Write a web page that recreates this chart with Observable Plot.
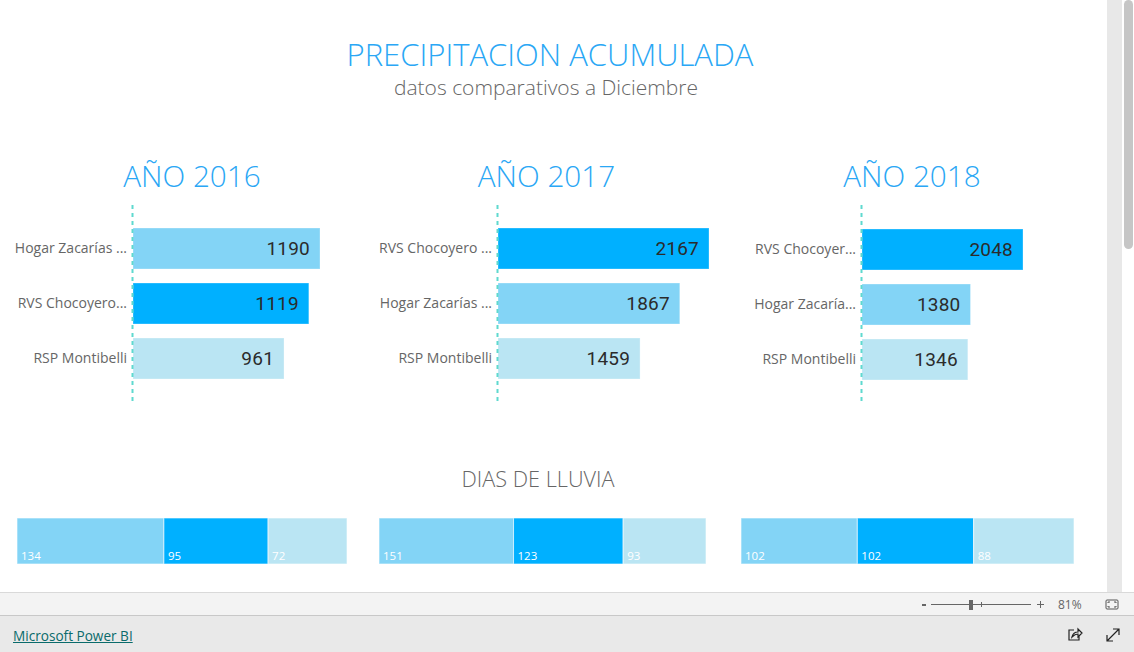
<!DOCTYPE html>
<html lang="es">
<head>
<meta charset="utf-8">
<script src="https://cdn.jsdelivr.net/npm/d3@7"></script>
<script src="https://cdn.jsdelivr.net/npm/@observablehq/plot@0.6"></script>
<style>
html,body{margin:0;padding:0;width:1134px;height:652px;overflow:hidden;background:#fff;font-family:"Open Sans",sans-serif}
#page{position:relative;width:1134px;height:652px;overflow:hidden}
.t{position:absolute;white-space:nowrap;text-align:center;font-weight:300;line-height:1}
.p{position:absolute}
.p svg{display:block;background:transparent;overflow:visible}
.main g[aria-label="text"] text{letter-spacing:0.2px}
.box{position:absolute}
</style>
</head>
<body>
<div id="page"></div>
<script>
const stations = ["Hogar Zacarías", "RVS Chocoyero", "RSP Montibelli"];
const stationColors = ["#83D4F6", "#00B0FF", "#BAE5F3"];

const years = ["AÑO 2016", "AÑO 2017", "AÑO 2018"];

const order2016 = ["Hogar Zacarías", "RVS Chocoyero", "RSP Montibelli"];
const labels2016 = ["Hogar Zacarías ...", "RVS Chocoyero...", "RSP Montibelli"];
const rain2016 = [1190, 1119, 961];

const order2017 = ["RVS Chocoyero", "Hogar Zacarías", "RSP Montibelli"];
const labels2017 = ["RVS Chocoyero ...", "Hogar Zacarías ...", "RSP Montibelli"];
const rain2017 = [2167, 1867, 1459];

const order2018 = ["RVS Chocoyero", "Hogar Zacarías", "RSP Montibelli"];
const labels2018 = ["RVS Chocoyer...", "Hogar Zacaría...", "RSP Montibelli"];
const rain2018 = [2048, 1380, 1346];

const days2016 = [134, 95, 72];
const days2017 = [151, 123, 93];
const days2018 = [102, 102, 88];

const page = document.getElementById("page");
const color = {domain: stations, range: stationColors};

function text(str, cx, cy, size, col, extra) {
  const d = document.createElement("div");
  d.className = "t";
  d.textContent = str;
  d.style.cssText = `left:${cx - 400}px;width:800px;top:${cy - size / 2}px;font-size:${size}px;color:${col};${extra || ""}`;
  page.appendChild(d);
}
function place(svg, left, top, cls) {
  const w = document.createElement("div");
  w.className = "p " + (cls || "");
  w.style.left = left + "px";
  w.style.top = top + "px";
  w.appendChild(svg);
  page.appendChild(w);
}
function box(l, t, w, h, bg, extra) {
  const d = document.createElement("div");
  d.className = "box";
  d.style.cssText = `left:${l}px;top:${t}px;width:${w}px;height:${h}px;background:${bg};${extra || ""}`;
  page.appendChild(d);
  return d;
}

function rainChart(order, labels, values, axisX, endX, top, yStart) {
  const rows = order.map((s, i) => ({station: s, value: values[i]}));
  const tick = new Map(order.map((s, i) => [s, labels[i]]));
  const width = axisX + 260, height = 198;
  const svg = Plot.plot({
    width, height,
    marginLeft: axisX, marginRight: 0, marginTop: 0, marginBottom: 0,
    x: {domain: [0, values[0]], range: [axisX, endX], axis: null},
    y: {domain: order, range: [yStart, yStart + 180.4], padding: 0.25, label: null, axis: null},
    color,
    marks: [
      Plot.barX(rows, {y: "station", x: "value", fill: "station", stroke: "#fff", strokeOpacity: 0.3}),
      Plot.ruleX([0], {stroke: "#5FD9CF", strokeWidth: 2, strokeDasharray: "4 4", dx: -1}),
      Plot.axisY({anchor: "left", tickSize: 0, tickPadding: 6.5, label: null, fontSize: 14, color: "#666",
        fontFamily: "'Open Sans',sans-serif", tickFormat: d => tick.get(d)}),
      Plot.text(rows, {y: "station", x: "value", text: d => String(d.value), textAnchor: "end", dx: -10.5,
        fontSize: 19, fontWeight: 400, fontFamily: "Roboto,sans-serif", fill: "#2b2b2b"})
    ]
  });
  place(svg, 0, top, "main");
}

function daysChart(values, x0, x1, top) {
  const rows = stations.map((s, i) => ({station: s, value: values[i]}));
  const svg = Plot.plot({
    width: x1 + 5, height: 46,
    marginLeft: x0, marginRight: 5, marginTop: 0, marginBottom: 0,
    x: {domain: [0, d3.sum(values)], range: [x0, x1], axis: null},
    y: {axis: null},
    color,
    marks: [
      Plot.barX(rows, Plot.stackX({x: "value", fill: "station", stroke: "#fff", strokeWidth: 1, strokeOpacity: 0.6})),
      Plot.text(rows, Plot.stackX1({x: "value", text: d => String(d.value), textAnchor: "start", frameAnchor: "bottom",
        dx: 3.5, dy: -5, fontSize: 11.5, fontFamily: "'Open Sans',sans-serif", fill: "#fff"}))
    ]
  });
  place(svg, 0, top);
}

text("PRECIPITACION ACUMULADA", 550, 54, 31, "#2AA7F5");
text("datos comparativos a Diciembre", 546, 87, 21, "#666");
text(years[0], 192, 176, 29.7, "#2AA7F5");
text(years[1], 546.5, 176, 29.7, "#2AA7F5");
text(years[2], 912, 176, 29.7, "#2AA7F5");
text("DIAS DE LLUVIA", 538, 479, 21.7, "#666");

rainChart(order2016, labels2016, rain2016, 133, 320, 205, 8);
rainChart(order2017, labels2017, rain2017, 498, 709, 205, 8);
rainChart(order2018, labels2018, rain2018, 862, 1023, 205, 9);

daysChart(days2016, 17, 347, 517.5);
daysChart(days2017, 379, 706, 518);
daysChart(days2018, 741, 1074, 518);

// page chrome
box(1107, 0, 15, 592, "#E8E8E8");
box(1124, 0, 9, 249, "#C6C6C6", "border-radius:5px");
box(0, 592, 1134, 23, "#F3F3F3", "border-top:1px solid #D9D9D9;box-sizing:border-box");
box(0, 615, 1134, 37, "#E9E9E9", "border-top:1px solid #C8C8C8;box-sizing:border-box");

const link = document.createElement("div");
link.textContent = "Microsoft Power BI";
link.style.cssText = "position:absolute;left:13px;top:627px;font-size:13.6px;line-height:18px;color:#0A6B6B;text-decoration:underline;font-weight:500";
page.appendChild(link);

box(922, 604, 4, 2, "#666");
box(931, 604, 100, 1, "#666");
box(969, 600, 4, 10, "#666");
box(981, 602, 1, 5, "#666");
box(1037, 604, 7, 1, "#666");
box(1040, 601, 1, 7, "#666");
const pct = document.createElement("div");
pct.textContent = "81%";
pct.style.cssText = "position:absolute;left:1058px;top:597px;font-size:12px;line-height:16px;color:#666";
page.appendChild(pct);

page.insertAdjacentHTML("beforeend", `
<svg style="position:absolute;left:1105px;top:599px" width="15" height="12" fill="none" stroke="#555" stroke-width="1">
  <rect x="1" y="1" width="12" height="9" rx="1"/>
  <path d="M3 4V3h2M9 3h2v1M11 7v1H9M5 8H3V7"/>
</svg>
<svg style="position:absolute;left:1066px;top:627px" width="60" height="16" fill="none" stroke="#222" stroke-width="1.2">
  <path d="M8 3H3v10h10V9M6 10c1-4 3-5 6-5V2l4 4-4 4V7c-2 0-4 1-6 3z"/>
  <path d="M41 14L53 2M47 2h6v6M41 8v6h6"/>
</svg>`);
</script>
</body>
</html>
